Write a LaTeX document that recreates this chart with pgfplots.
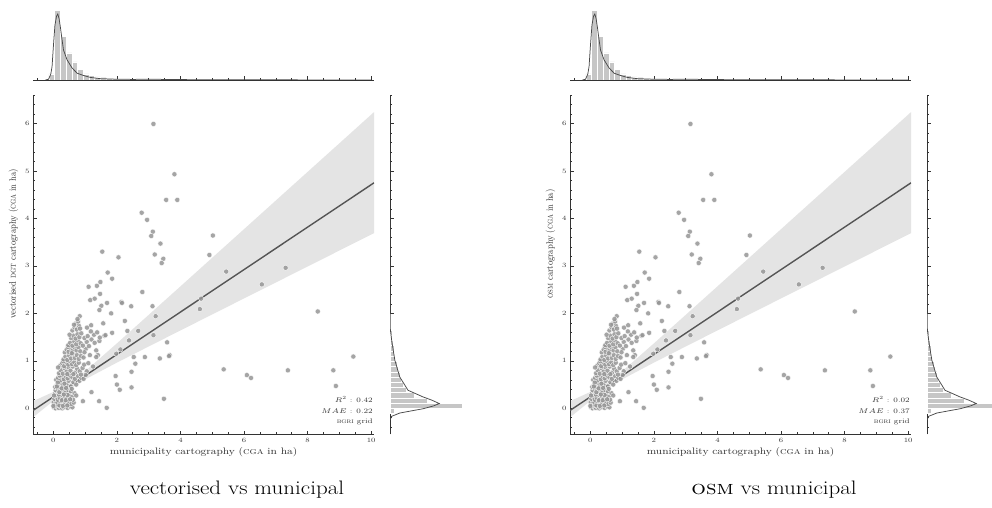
\RequirePackage{fix-cm}
\documentclass[border=0pt]{standalone}
\usepackage{graphicx}
\usepackage{pgfplots}
\pgfplotsset{compat=1.18}
\usepackage{pgfplotstable}

\definecolor{ptfill}{HTML}{959595}
\definecolor{regline}{HTML}{555555}
\definecolor{histc}{HTML}{C6C6C6}
\definecolor{kdec}{HTML}{4A4A4A}
\definecolor{spine}{HTML}{333333}

\newcommand{\hs}[1]{\scalebox{1.18}[1]{#1}}
\newcommand{\vs}[1]{\scalebox{1}[1.18]{#1}}

\pgfplotstableread{
x y
0.02 0.02
0.07 0.00
0.12 0.03
0.17 0.01
0.22 0.04
0.28 0.00
0.33 0.02
0.39 0.03
0.45 0.01
0.52 0.04
0.60 0.02
0.04 0.08
0.10 0.10
0.15 0.07
0.21 0.12
0.26 0.09
0.31 0.13
0.36 0.08
0.42 0.11
0.49 0.14
0.56 0.09
0.01 0.13
0.08 0.15
0.13 0.12
0.19 0.06
0.24 0.15
0.30 0.05
0.35 0.14
0.44 0.06
0.64 0.12
0.00 0.05
0.03 0.20
0.09 0.24
0.14 0.18
0.20 0.22
0.25 0.28
0.31 0.19
0.37 0.25
0.43 0.21
0.50 0.30
0.58 0.24
0.66 0.32
0.05 0.31
0.11 0.35
0.17 0.29
0.23 0.37
0.28 0.33
0.34 0.39
0.40 0.34
0.47 0.38
0.55 0.36
0.72 0.27
0.07 0.38
0.15 0.40
0.19 0.34
0.27 0.17
0.39 0.17
0.62 0.18
0.02 0.27
0.45 0.28
0.53 0.19
0.33 0.29
0.06 0.45
0.12 0.50
0.18 0.44
0.24 0.53
0.30 0.47
0.36 0.56
0.42 0.49
0.48 0.58
0.55 0.46
0.63 0.55
0.72 0.50
0.82 0.58
0.09 0.60
0.15 0.64
0.21 0.58
0.27 0.66
0.33 0.61
0.39 0.68
0.45 0.63
0.52 0.69
0.60 0.65
0.68 0.62
0.78 0.68
0.88 0.64
0.14 0.54
0.26 0.42
0.40 0.43
0.58 0.41
0.20 0.69
0.11 0.46
0.35 0.52
0.18 0.74
0.24 0.80
0.30 0.73
0.36 0.84
0.42 0.77
0.48 0.86
0.54 0.79
0.61 0.88
0.68 0.75
0.75 0.83
0.83 0.78
0.92 0.85
0.22 0.90
0.28 0.95
0.34 0.89
0.40 0.97
0.47 0.92
0.53 0.99
0.59 0.93
0.66 0.97
0.72 0.91
0.80 0.96
0.97 0.92
0.15 0.86
0.44 0.72
0.63 0.72
0.87 0.71
0.31 0.99
0.32 1.03
0.38 1.09
0.44 1.02
0.50 1.11
0.56 1.05
0.62 1.14
0.68 1.06
0.74 1.12
0.80 1.04
0.87 1.10
0.95 1.07
0.36 1.18
0.42 1.24
0.48 1.19
0.55 1.27
0.61 1.21
0.67 1.28
0.73 1.22
0.79 1.29
0.85 1.20
1.02 1.25
0.58 1.16
0.46 1.29
0.47 1.33
0.53 1.38
0.60 1.32
0.66 1.41
0.72 1.35
0.78 1.43
0.86 1.37
0.93 1.32
1.05 1.40
0.56 1.48
0.63 1.53
0.70 1.47
0.76 1.56
0.82 1.50
0.88 1.58
0.51 1.55
0.98 1.48
0.60 1.64
0.67 1.70
0.74 1.66
0.80 1.74
0.71 1.79
0.78 1.83
0.84 1.68
0.65 1.76
0.83 1.94
0.76 1.88
0.95 0.62
1.05 0.78
1.10 0.95
0.98 1.18
1.12 1.31
1.20 1.45
1.15 1.12
1.25 0.88
1.02 0.70
1.35 1.22
1.30 1.38
1.28 1.55
1.45 1.42
1.40 1.12
1.18 1.62
1.08 1.52
3.15 5.99
3.81 4.93
3.55 4.39
3.90 4.39
2.78 4.12
2.95 3.97
3.13 3.72
3.08 3.63
3.37 3.47
3.19 3.24
3.46 3.15
3.41 3.06
1.54 3.30
2.05 3.18
1.71 2.86
1.85 2.73
1.11 2.56
1.37 2.58
1.48 2.66
1.47 2.41
1.16 2.28
1.30 2.31
1.69 2.22
1.51 2.16
1.45 2.07
2.14 2.24
2.16 2.22
1.82 2.00
2.45 2.15
2.80 2.45
3.12 2.15
3.22 1.94
1.06 1.70
1.19 1.75
1.57 1.79
1.38 1.60
1.61 1.53
1.85 1.59
2.25 1.84
2.33 1.63
2.67 1.63
2.38 1.43
2.11 1.24
1.98 1.15
2.53 1.08
2.88 1.08
2.58 0.94
3.15 1.54
3.35 1.05
3.58 1.39
3.66 1.12
3.64 1.10
2.46 0.77
1.96 0.68
2.00 0.50
2.09 0.39
2.46 0.44
1.20 0.34
0.93 0.15
1.44 0.15
1.68 0.01
3.48 0.20
5.02 3.64
4.91 3.23
5.44 2.88
6.56 2.61
7.31 2.96
4.65 2.31
4.61 2.09
8.32 2.04
9.44 1.09
8.81 0.80
8.89 0.47
7.38 0.80
6.09 0.70
6.22 0.64
5.36 0.82
1.46 1.49
1.64 1.54
1.35 1.08
}\scatterdata

% confidence band as a closed polygon: upper edge left->right, lower edge right->left
\pgfplotstableread{
x y
-0.64 0.150
0.00 0.345
0.55 0.546
1.00 0.779
2.00 1.368
3.00 1.968
4.00 2.569
5.00 3.172
6.00 3.774
7.00 4.377
8.00 4.980
9.00 5.582
10.09 6.240
10.09 3.690
9.00 3.323
8.00 2.987
7.00 2.650
6.00 2.314
5.00 1.977
4.00 1.640
3.00 1.302
2.00 0.962
1.00 0.609
0.55 0.426
0.00 0.154
-0.64 -0.190
}\banddata

\pgfplotsset{
  jp common/.style={
    scale only axis, anchor=south west,
    axis line style={-, draw=spine, line width=0.8pt},
    tick align=inside, major tick length=3.5pt, minor tick length=2pt,
    tick style={draw=spine, line width=0.6pt},
  },
}

\newcommand{\jointpanel}[5]{%
% #1 main-axis left x, #2 ylabel, #3 R2, #4 MAE, #5 right marginal x
\begin{axis}[jp common,
  at={(#1,72.6pt)}, width=341pt, height=339.4pt,
  xmin=-0.64, xmax=10.09, ymin=-0.55, ymax=6.60,
  axis x line*=bottom, axis y line*=left,
  xtick={0,2,4,6,8,10},
  minor xtick={-0.5,0.5,1,1.5,2.5,3,3.5,4.5,5,5.5,6.5,7,7.5,8.5,9,9.5},
  ytick={0,1,2,3,4,5,6},
  minor ytick={-0.4,-0.2,0.2,0.4,0.6,0.8,1.2,1.4,1.6,1.8,2.2,2.4,2.6,2.8,3.2,3.4,3.6,3.8,4.2,4.4,4.6,4.8,5.2,5.4,5.6,5.8,6.2,6.4,6.6},
  ticklabel style={font=\fontsize{6.5}{7}\selectfont, text=spine},
  xticklabel={\hs{\pgfmathprintnumber[assume math mode=true]{\tick}}},
  yticklabel={\hs{\pgfmathprintnumber[assume math mode=true]{\tick}}},
  xlabel={\hs{municipality cartography (\textsc{cga} in ha)}},
  xlabel style={font=\fontsize{9.4}{10}\selectfont, text=spine, yshift=2pt},
  ylabel={\vs{#2}},
  ylabel style={font=\fontsize{8.1}{9}\selectfont, text=spine, at={(ticklabel cs:0.561)}},
]
\addplot[only marks, mark=*, mark size=2.6pt,
  mark options={fill=ptfill, draw=white, line width=0.35pt, fill opacity=0.85}]
  table[x=x, y=y] {\scatterdata};
\addplot[fill=black!70, fill opacity=0.15, draw=none] table[x=x, y=y] {\banddata} -- cycle;
\addplot[regline, line width=1.4pt] coordinates {(-0.64,-0.046) (10.09,4.750)};
\node[anchor=south east, align=right, inner sep=0pt, text=spine,
  font=\fontsize{6.8}{10.3}\selectfont] at (rel axis cs:0.997,0.028)
  {\hs{$R^2$ : #3}\\ \hs{$MAE$ : #4}\\ \hs{\textsc{bgri} grid}};
\end{axis}
%
\begin{axis}[jp common,
  at={(#1,427pt)}, width=341pt, height=75pt,
  xmin=-0.64, xmax=10.09, ymin=0, ymax=1,
  axis x line*=bottom, axis y line*=left, y axis line style={draw=none},
  ytick=\empty,
  xtick={0,2,4,6,8,10},
  minor xtick={-0.5,0.5,1,1.5,2.5,3,3.5,4.5,5,5.5,6.5,7,7.5,8.5,9,9.5},
  xticklabels={},
]
\addplot[ybar, bar width=0.18, bar shift=0pt, fill=histc, draw=white, line width=0.4pt] coordinates {
(-0.05,0.08) (0.13,0.93) (0.31,0.58) (0.49,0.36) (0.67,0.24) (0.85,0.14)
(1.03,0.08) (1.21,0.06) (1.39,0.04) (1.57,0.03) (1.75,0.02) (1.93,0.015)};
\addplot[kdec, line width=0.75pt] coordinates {
(-0.25,0) (-0.15,0.01) (-0.08,0.08) (-0.04,0.18) (0.00,0.44) (0.05,0.73) (0.10,0.85)
(0.14,0.88) (0.18,0.82) (0.22,0.71) (0.27,0.55) (0.32,0.40) (0.43,0.27) (0.59,0.16)
(0.75,0.09) (0.95,0.06) (1.16,0.035) (1.48,0.018) (2.0,0.010) (2.5,0.008) (3.1,0.010)
(3.8,0.006) (5.0,0.003) (7.0,0.002) (9.0,0.001) (10.0,0)};
\end{axis}
%
\begin{axis}[jp common,
  at={(#5,72.6pt)}, width=75pt, height=339.4pt,
  xmin=0, xmax=1, ymin=-0.55, ymax=6.6,
  axis y line*=left, axis x line*=bottom, x axis line style={draw=none},
  xtick=\empty,
  ytick={0,1,2,3,4,5,6},
  minor ytick={-0.4,-0.2,0.2,0.4,0.6,0.8,1.2,1.4,1.6,1.8,2.2,2.4,2.6,2.8,3.2,3.4,3.6,3.8,4.2,4.4,4.6,4.8,5.2,5.4,5.6,5.8,6.2,6.4,6.6},
  yticklabels={},
]
\addplot[xbar, bar width=0.11, bar shift=0pt, fill=histc, draw=white, line width=0.4pt] coordinates {
(0.05,-0.055) (0.96,0.055) (0.50,0.165) (0.32,0.275) (0.22,0.385) (0.18,0.495) (0.15,0.605)
(0.13,0.715) (0.11,0.825) (0.09,0.935) (0.07,1.045) (0.06,1.155) (0.05,1.265) (0.04,1.375)
(0.03,1.485) (0.025,1.595) (0.02,1.705) (0.015,1.815) (0.01,1.925)};
\addplot[kdec, line width=0.75pt] coordinates {
(0,-0.25) (0.02,-0.17) (0.13,-0.10) (0.30,-0.05) (0.44,-0.01) (0.58,0.05) (0.657,0.10)
(0.56,0.17) (0.44,0.24) (0.24,0.38) (0.13,0.66) (0.065,1.01) (0.025,1.40) (0.005,1.65)
(0.002,2.0) (0.001,3.0) (0.0,4.0)};
\end{axis}
}

\begin{document}
\begin{tikzpicture}
\path[use as bounding box] (0pt,0pt) rectangle (992pt,507pt);
\jointpanel{33pt}{vectorised \textsc{dgt} cartography (\textsc{cga} in ha)}{0.42}{0.22}{390pt}
\node[font=\fontsize{19.5}{22}\selectfont] at (237pt,17pt) {\hs{vectorised vs municipal}};
\jointpanel{570pt}{\textsc{osm} cartography (\textsc{cga} in ha)}{0.02}{0.37}{927pt}
\node[font=\fontsize{19.5}{22}\selectfont] at (774pt,17pt) {\hs{\textsc{osm} vs municipal}};
\end{tikzpicture}
\end{document}
